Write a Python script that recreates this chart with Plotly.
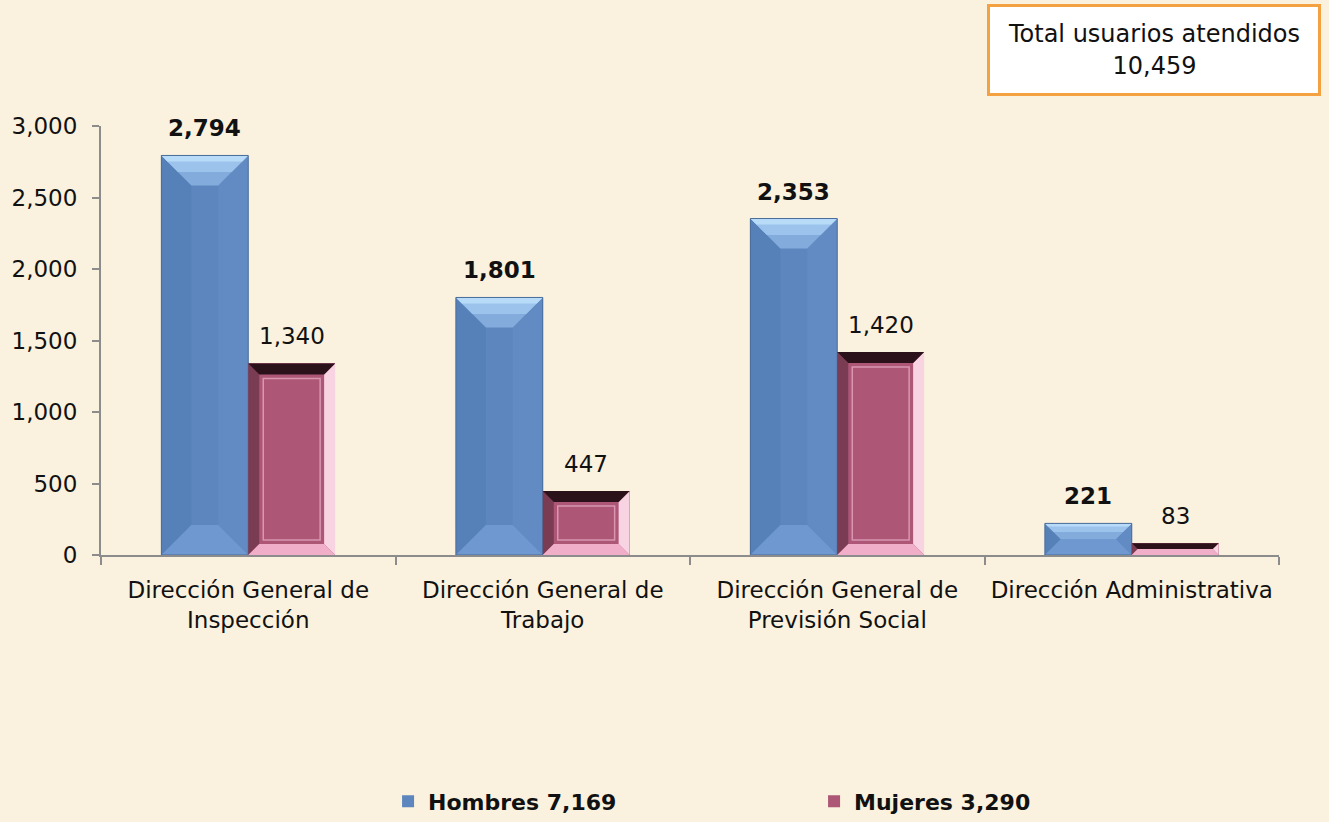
import plotly.graph_objects as go

# ---------------- data ----------------
categories = [
    "Dirección General de<br>Inspección",
    "Dirección General de<br>Trabajo",
    "Dirección General de<br>Previsión Social",
    "Dirección Administrativa",
]
hombres = [2794, 1801, 2353, 221]
mujeres = [1340, 447, 1420, 83]
series_names = ["Hombres 7,169", "Mujeres 3,290"]
total_label = "Total usuarios atendidos<br>10,459"
y_ticks = [0, 500, 1000, 1500, 2000, 2500, 3000]

# ---------------- layout constants ----------------
W, H = 1329, 822
M = dict(l=101, r=50, t=126, b=267)
plot_w = W - M["l"] - M["r"]
plot_h = H - M["t"] - M["b"]
YMAX = 3000
n = len(categories)
idx = list(range(n))
xu = n / plot_w          # data units per pixel (x)
yu = YMAX / plot_h       # data units per pixel (y)
BW = 0.295               # bar width in category units

FONT = "DejaVu Sans"
AXIS = "#8C8C8C"
BLUE = "#5C86BD"
PINK = "#AD5676"
BG = "#FAF1DE"


def poly(pts, fill, line=None, lw=0):
    d = "M " + " L ".join(f"{x},{y}" for x, y in pts) + " Z"
    return dict(type="path", path=d, xref="x", yref="y", fillcolor=fill, layer="above",
                line=dict(width=lw, color=line or fill))


shapes = []
for i, v in zip(idx, hombres):
    x0, x1 = i - BW, i
    h_px = v / yu
    d = min(30, h_px / 2, (BW / xu) / 2)
    dx, dy = d * xu, d * yu
    shapes.append(poly([(x0, 0), (x0, v), (x0 + dx, v - dy), (x0 + dx, dy)], "#5680B8"))
    shapes.append(poly([(x1, 0), (x1, v), (x1 - dx, v - dy), (x1 - dx, dy)], "#618BC2"))
    shapes.append(poly([(x0, 0), (x1, 0), (x1 - dx, dy), (x0 + dx, dy)], "#6E98CF"))
    shapes.append(poly([(x0, v), (x1, v), (x1 - dx, v - dy), (x0 + dx, v - dy)], "#83ACDD"))
    shapes.append(poly([(x0, v), (x1, v), (x1 - dx * 0.55, v - dy * 0.55), (x0 + dx * 0.55, v - dy * 0.55)], "#9BC3EC"))
    shapes.append(poly([(x0, v), (x1, v), (x1 - dx * 0.2, v - dy * 0.2), (x0 + dx * 0.2, v - dy * 0.2)], "#B8DCF8"))
    shapes.append(dict(type="rect", xref="x", yref="y", x0=x0, x1=x1, y0=0, y1=v,
                       line=dict(color="#4A6D9A", width=1), fillcolor="rgba(0,0,0,0)", layer="above"))

for i, v in zip(idx, mujeres):
    x0, x1 = i, i + BW
    h_px = v / yu
    d = min(11, h_px / 2)
    dx, dy = d * xu, d * yu
    shapes.append(poly([(x0, 0), (x0, v), (x0 + dx, v - dy), (x0 + dx, dy)], "#7A3C53"))
    shapes.append(poly([(x1, 0), (x1, v), (x1 - dx, v - dy), (x1 - dx, dy)], "#F8D4E3"))
    shapes.append(poly([(x0, 0), (x1, 0), (x1 - dx, dy), (x0 + dx, dy)], "#F1AEC8"))
    shapes.append(poly([(x0, v), (x1, v), (x1 - dx, v - dy), (x0 + dx, v - dy)], "#2B1119"))
    if h_px > 40:
        ins = 15
        shapes.append(dict(type="rect", xref="x", yref="y",
                           x0=x0 + ins * xu, x1=x1 - ins * xu, y0=ins * yu, y1=v - ins * yu,
                           line=dict(color="#D896B1", width=1.5), fillcolor="rgba(0,0,0,0)",
                           layer="above"))

fig = go.Figure()
fig.add_trace(go.Bar(
    x=[i - BW / 2 for i in idx], y=hombres, width=BW, name=series_names[0],
    marker=dict(color=BLUE, line=dict(width=0)),
))
fig.add_trace(go.Bar(
    x=[i + BW / 2 for i in idx], y=mujeres, width=BW, name=series_names[1],
    marker=dict(color=PINK, line=dict(width=0)),
))

annotations = []
for i, v in zip(idx, hombres):
    annotations.append(dict(x=i - BW / 2, y=v, xref="x", yref="y", text=f"{v:,}",
                            showarrow=False, yanchor="bottom", yshift=12,
                            font=dict(family=FONT, size=23, color="#111111", weight="bold")))
for i, v in zip(idx, mujeres):
    annotations.append(dict(x=i + BW / 2, y=v, xref="x", yref="y", text=f"{v:,}",
                            showarrow=False, yanchor="bottom", yshift=12,
                            font=dict(family=FONT, size=23, color="#111111")))

# total box (top right)
annotations.append(dict(
    x=(1153.5 - M["l"]) / plot_w, y=(H - M["b"] - 49.5) / plot_h, xref="paper", yref="paper",
    text=total_label, showarrow=False, xanchor="center", yanchor="middle",
    width=326, height=84, bgcolor="#FFFFFF", bordercolor="#F4A142", borderwidth=3,
    font=dict(family=FONT, size=24, color="#111111"), align="center",
))

fig.update_layout(
    width=W, height=H, margin=M,
    paper_bgcolor=BG, plot_bgcolor="rgba(0,0,0,0)",
    barmode="overlay", bargap=0,
    showlegend=True,
    legend=dict(orientation="h", xref="container", yref="container",
                x=0.292, y=0.025, xanchor="left", yanchor="middle",
                entrywidth=381, entrywidthmode="pixels",
                font=dict(family=FONT, size=22, color="#111111", weight="bold"),
                bgcolor="rgba(0,0,0,0)", traceorder="normal"),
    shapes=shapes,
    annotations=annotations,
    xaxis=dict(
        range=[-0.5, n - 0.5], tickmode="array", tickvals=idx, ticktext=categories,
        ticks="", showline=True, linecolor=AXIS, linewidth=2, showgrid=False, zeroline=False,
        tickfont=dict(family=FONT, size=23, color="#111111"), ticklabelstandoff=13,
        minor=dict(tickmode="array", tickvals=[i - 0.5 for i in range(n + 1)],
                   ticks="outside", ticklen=8, tickwidth=2, tickcolor=AXIS, showgrid=False),
    ),
    yaxis=dict(
        range=[0, YMAX], tickmode="array", tickvals=y_ticks, tickformat=",",
        ticks="outside", ticklen=7, tickwidth=2, tickcolor=AXIS,
        showline=True, linecolor=AXIS, linewidth=2, showgrid=False, zeroline=False,
        tickfont=dict(family=FONT, size=23, color="#111111"), ticklabelstandoff=10,
    ),
)

fig.write_html(
    "out.html",
    config={"displayModeBar": False},
    post_script=f"document.body.style.margin='0';document.body.style.background='{BG}';"
                "document.body.style.overflow='hidden';",
)
